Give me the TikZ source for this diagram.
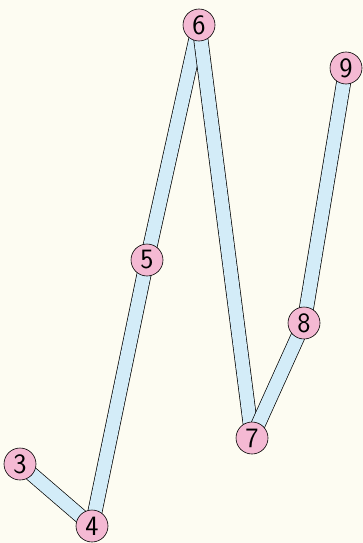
\documentclass[tikz,border=0pt]{standalone}
\usepackage{tikz}
\usetikzlibrary{backgrounds}
\definecolor{paper}{HTML}{FDFCF2}
\definecolor{dotpink}{HTML}{F4B9D3}
\definecolor{barblue}{HTML}{D3ECF8}

\begin{document}
\begin{tikzpicture}[x=1pt,y=-1pt]
    % Define styles
    \tikzstyle{point} = [circle, minimum size=32pt, inner sep=0pt, draw=black, semithick, fill=dotpink, font=\sffamily\fontsize{28}{28}\selectfont]
    \tikzstyle{bar} = [draw=black, line width=0.7pt, double=barblue, double distance=13.5pt]

    \useasboundingbox (0,0) rectangle (363,543);

    % Points
    \node[point] (n3) at (20, 464) {3};
    \node[point] (n4) at (92, 526) {4};
    \node[point] (n5) at (147, 260) {5};
    \node[point] (n6) at (199, 25) {6};
    \node[point] (n7) at (252, 438) {7};
    \node[point] (n8) at (304, 323) {8};
    \node[point] (n9) at (346, 68) {9};

    % Bars between the points
    \begin{scope}[on background layer]
        \fill[paper] (0,0) rectangle (363,543);
        \draw[bar] (n3.center) -- (n4.center);
        \draw[bar] (n4.center) -- (n5.center);
        \draw[bar] (n5.center) -- (n6.center);
        \draw[bar] (n6.center) -- (n7.center);
        \draw[bar] (n7.center) -- (n8.center);
        \draw[bar] (n8.center) -- (n9.center);
    \end{scope}

\end{tikzpicture}
\end{document}
